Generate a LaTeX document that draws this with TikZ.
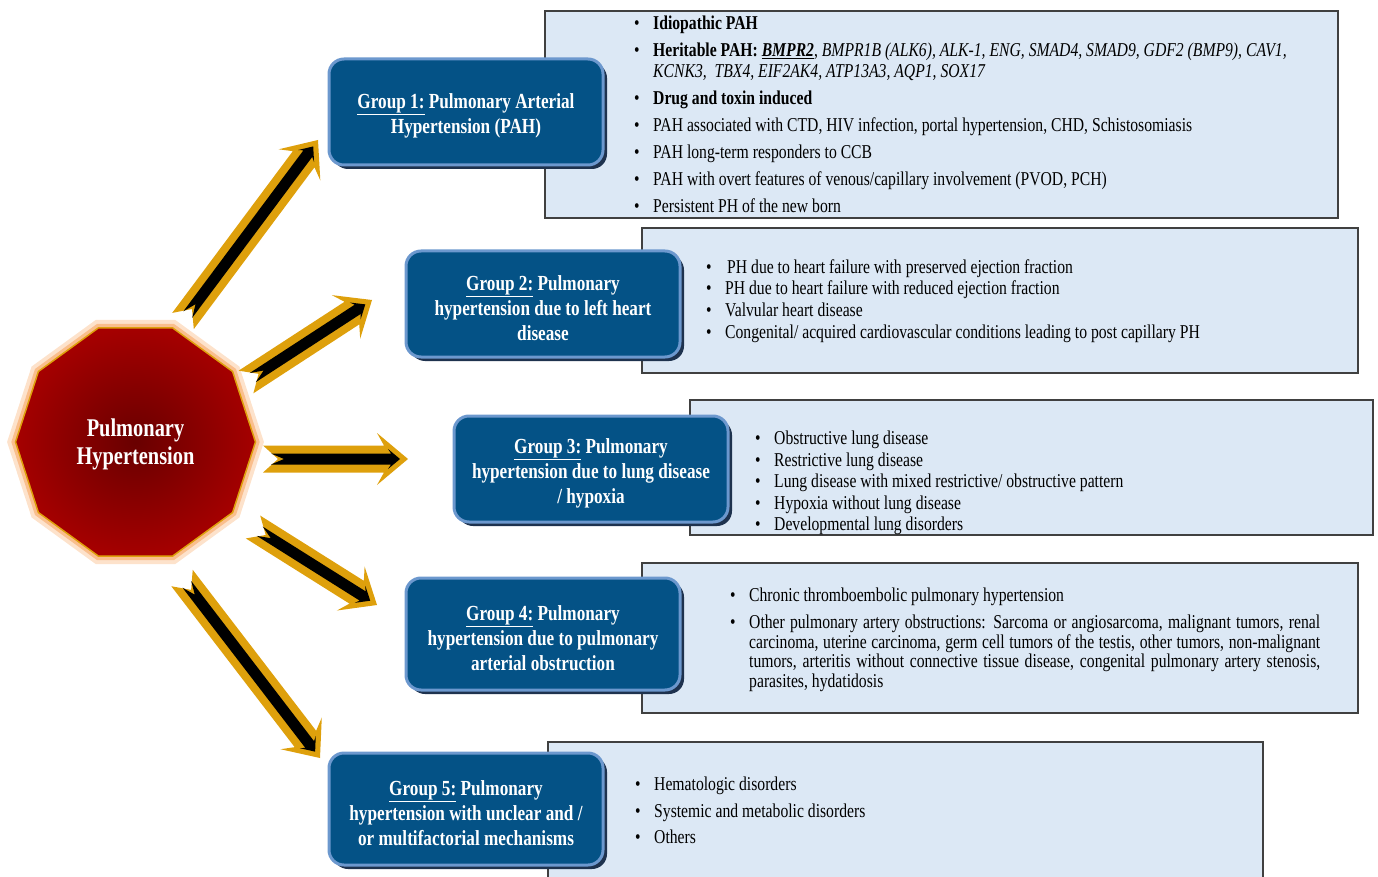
\documentclass[tikz,border=0pt]{standalone}
\usepackage{fontspec}
\setmainfont{Liberation Serif}[FakeStretch=0.8]
\usetikzlibrary{calc,shapes.geometric,shadows}

\definecolor{grpblue}{RGB}{4,82,134}
\definecolor{grpedge}{RGB}{108,152,206}
\definecolor{grpshade}{RGB}{30,50,78}
\definecolor{boxfill}{RGB}{220,232,245}
\definecolor{boxedge}{RGB}{64,64,64}
\definecolor{arrgold}{RGB}{222,160,12}
\definecolor{phred}{RGB}{165,0,0}
\definecolor{phdark}{RGB}{105,0,0}
\definecolor{phglow}{RGB}{250,190,140}

\newcommand{\bl}{\makebox[19pt][l]{\textbullet}}
\newcommand{\ind}{\hspace*{19pt}}
\newcommand{\gtop}{\rule{0pt}{23pt}}

% gold edged arrow with notched tail, from #1 to #2
\newcommand{\phArrow}[2]{%
  \coordinate (o0) at (#1);
  \coordinate (oN) at ($(#1)!15pt!(#2)$);
  \coordinate (oS) at ($(#2)!24pt!(#1)$);
  \coordinate (oB) at ($(#2)!31pt!(#1)$);
  \coordinate (i0) at ($(#1)!8pt!(#2)$);
  \coordinate (iN) at ($(#1)!21pt!(#2)$);
  \coordinate (iS) at ($(#2)!17pt!(#1)$);
  \coordinate (iB) at ($(#2)!20pt!(#1)$);
  \coordinate (iT) at ($(#2)!8pt!(#1)$);
  \fill[arrgold] ($(o0)!13.5pt!90:(#2)$) -- ($(oS)!13.5pt!90:(#2)$) -- ($(oB)!26pt!90:(#2)$) -- (#2)
    -- ($(oB)!26pt!-90:(#2)$) -- ($(oS)!13.5pt!-90:(#2)$) -- ($(o0)!13.5pt!-90:(#2)$) -- (oN) -- cycle;
  \fill[black] ($(i0)!5.5pt!90:(#2)$) -- ($(iS)!5.5pt!90:(#2)$) -- ($(iB)!10pt!90:(#2)$) -- (iT)
    -- ($(iB)!10pt!-90:(#2)$) -- ($(iS)!5.5pt!-90:(#2)$) -- ($(i0)!5.5pt!-90:(#2)$) -- (iN) -- cycle;
}

\begin{document}
\begin{tikzpicture}[x=1pt,y=-1pt,
  textbox/.style={draw=boxedge,line width=1.2pt,fill=boxfill,inner sep=0},
  grpbox/.style={rounded corners=15pt,fill=grpblue,draw=grpedge,line width=3pt,
    drop shadow={shadow xshift=4pt,shadow yshift=-4pt,fill=grpshade,opacity=1},
    text=white,align=center,minimum width=274,
    font=\fontsize{21.5}{25}\selectfont\bfseries},
  itemlist/.style={anchor=north west,inner sep=0,align=left,
    font=\fontsize{19.6}{21}\selectfont}]
\useasboundingbox (0,0) rectangle (1378,877);

% right hand boxes
\node[textbox,minimum width=793,minimum height=207] (t1) at (941.5,114.5) {};
\node[textbox,minimum width=716,minimum height=145] (t2) at (1000,300.5) {};
\node[textbox,minimum width=683,minimum height=135] (t3) at (1031.5,467.5) {};
\node[textbox,minimum width=716,minimum height=150] (t4) at (1000,638) {};
\node[textbox,minimum width=715,minimum height=140] (t5) at (905.5,812) {};

\node[itemlist] (l1) at (634,16) {%
\bl\textbf{Idiopathic PAH}\\[6pt]
\bl\textbf{Heritable PAH: \textit{\underline{BMPR2}}}, \textit{BMPR1B (ALK6), ALK-1, ENG, SMAD4, SMAD9, GDF2 (BMP9), CAV1,}\\
\ind\textit{KCNK3,\ \ TBX4, EIF2AK4, ATP13A3, AQP1, SOX17}\\[6pt]
\bl\textbf{Drug and toxin induced}\\[6pt]
\bl PAH associated with CTD, HIV infection, portal hypertension, CHD, Schistosomiasis\\[6pt]
\bl PAH long-term responders to CCB\\[6pt]
\bl PAH with overt features of venous/capillary involvement (PVOD, PCH)\\[6pt]
\bl Persistent PH of the new born};

\node[itemlist] (l2) at (706,259) {%
\bl\hspace{2pt}PH due to heart failure with preserved ejection fraction\\[0.7pt]
\bl PH due to heart failure with reduced ejection fraction\\[0.7pt]
\bl Valvular heart disease\\[0.7pt]
\bl Congenital/ acquired cardiovascular conditions leading to post capillary PH};

\node[itemlist] (l3) at (755,431) {%
\bl Obstructive lung disease\\[0.5pt]
\bl Restrictive lung disease\\[0.5pt]
\bl Lung disease with mixed restrictive/ obstructive pattern\\[0.5pt]
\bl Hypoxia without lung disease\\[0.5pt]
\bl Developmental lung disorders};

\node[itemlist] (l4) at (730,588) {%
\bl Chronic thromboembolic pulmonary hypertension\\[6pt]
\bl\makebox[571pt][s]{Other pulmonary artery obstructions: Sarcoma or angiosarcoma, malignant tumors, renal}\\[-1.5pt]
\ind\makebox[571pt][s]{carcinoma, uterine carcinoma, germ cell tumors of the testis, other tumors, non-malignant}\\[-1.5pt]
\ind\makebox[571pt][s]{tumors, arteritis without connective tissue disease, congenital pulmonary artery stenosis,}\\[-1.5pt]
\ind parasites, hydatidosis};

\node[itemlist] (l5) at (635,777) {%
\bl Hematologic disorders\\[5.5pt]
\bl Systemic and metabolic disorders\\[5.5pt]
\bl Others};

% group boxes
\node[grpbox,minimum height=106] (g1) at (466,112) {\gtop\underline{Group 1:} Pulmonary Arterial\\Hypertension (PAH)};
\node[grpbox,minimum height=106] (g2) at (543,304) {\gtop\underline{Group 2:} Pulmonary\\hypertension due to left heart\\disease};
\node[grpbox,minimum height=106] (g3) at (591,469) {\gtop\underline{Group 3:} Pulmonary\\hypertension due to lung disease\\/ hypoxia};
\node[grpbox,minimum height=112] (g4) at (543,634) {\gtop\underline{Group 4:} Pulmonary\\hypertension due to pulmonary\\arterial obstruction};
\node[grpbox,minimum height=112] (g5) at (466,809) {\gtop\underline{Group 5:} Pulmonary\\hypertension with unclear and /\\or multifactorial mechanisms};

% centre
\node[regular polygon,regular polygon sides=10,minimum size=240,inner sep=0,
  inner color=phdark,outer color=phred,draw=arrgold,line width=1.5pt,
  preaction={draw=phglow!45,line width=16pt},
  preaction={draw=phglow,line width=8pt},
  text=white,align=center,font=\fontsize{25.5}{28}\selectfont\bfseries]
  (ph) at (135.5,442) {\rule{0pt}{22pt}Pulmonary\\Hypertension};

% arrows
\coordinate (a1s) at (183,321);
\coordinate (a1e) at (318,140);
\coordinate (a2s) at (246,382);
\coordinate (a2e) at (372,300);
\coordinate (a3s) at (263,459);
\coordinate (a3e) at (408,459);
\coordinate (a4s) at (253,527);
\coordinate (a4e) at (377,605);
\coordinate (a5s) at (182,578);
\coordinate (a5e) at (320,758);
\phArrow{a1s}{a1e}
\phArrow{a2s}{a2e}
\phArrow{a3s}{a3e}
\phArrow{a4s}{a4e}
\phArrow{a5s}{a5e}
\end{tikzpicture}
\end{document}
